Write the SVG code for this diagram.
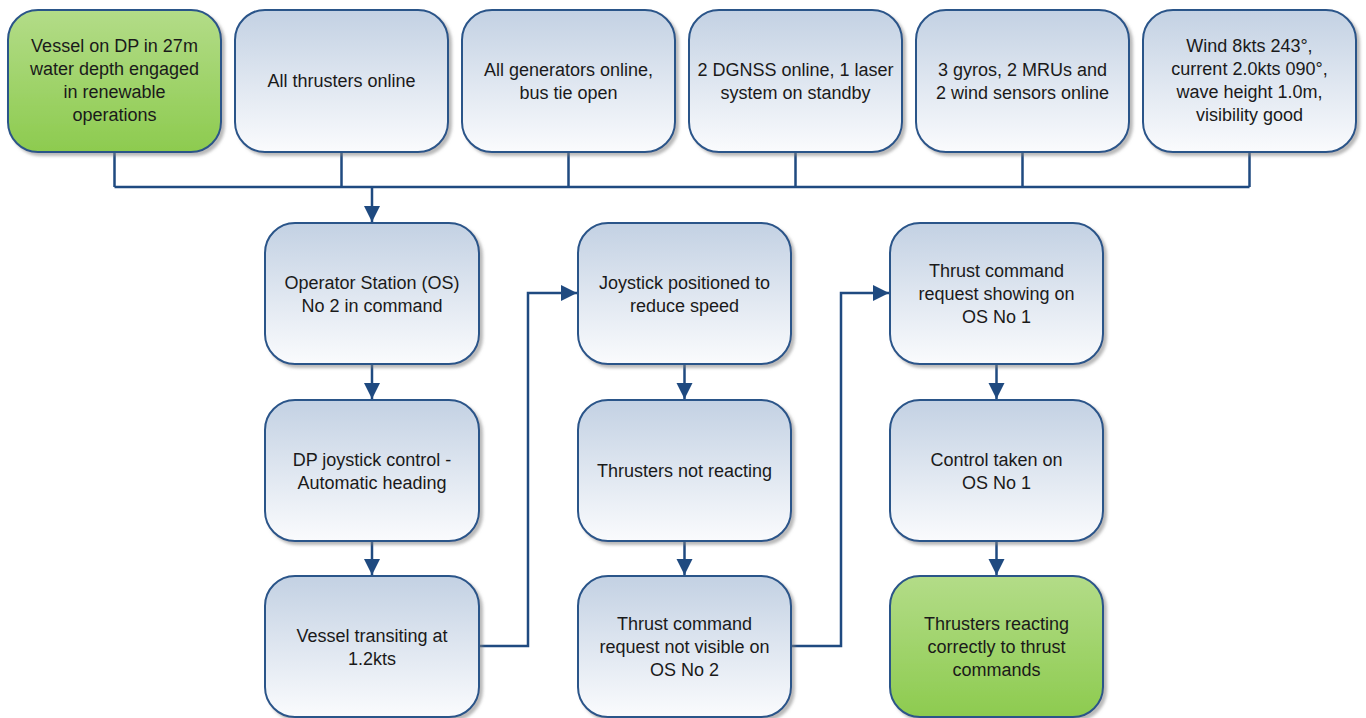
<svg xmlns="http://www.w3.org/2000/svg" width="1366" height="718" viewBox="0 0 1366 718">
<defs>
  <linearGradient id="gBlue" x1="0" y1="0" x2="0" y2="1">
    <stop offset="0" stop-color="#C3D1E3"/>
    <stop offset="1" stop-color="#FAFBFD"/>
  </linearGradient>
  <linearGradient id="gGreen" x1="0" y1="0" x2="0" y2="1">
    <stop offset="0" stop-color="#B3DC88"/>
    <stop offset="1" stop-color="#8DCB4F"/>
  </linearGradient>
  <filter id="shadow" x="-10%" y="-10%" width="125%" height="125%">
    <feDropShadow dx="3" dy="3" stdDeviation="1.8" flood-color="#7F7F7F" flood-opacity="0.55"/>
  </filter>
  <marker id="arrow" markerUnits="userSpaceOnUse" markerWidth="17" markerHeight="17" refX="16" refY="8" orient="auto">
    <path d="M0,0 L16,8 L0,16 Z" fill="#1F4A80"/>
  </marker>
  <style>
    .box { stroke: #2A5489; stroke-width: 2; filter: url(#shadow); }
    .blue { fill: url(#gBlue); }
    .green { fill: url(#gGreen); }
    .t { font-family: "Liberation Sans", Arial, sans-serif; font-size: 18px; fill: #1A1A1A; text-anchor: middle; }
    .c { fill: none; stroke: #1F4A80; stroke-width: 2.5; }
  </style>
</defs>

<g id="connectors">
  <path class="c" d="M114.5,152 V187 M341.5,152 V187 M568.5,152 V187 M795.5,152 V187 M1022.5,152 V187 M1249.5,152 V187 M114.5,187 H1249.5"/>
  <path class="c" d="M372,187 V222" marker-end="url(#arrow)"/>
  <path class="c" d="M372,364 V399" marker-end="url(#arrow)"/>
  <path class="c" d="M372,541 V575" marker-end="url(#arrow)"/>
  <path class="c" d="M479,646 H528 V293 H577" marker-end="url(#arrow)"/>
  <path class="c" d="M684.5,364 V399" marker-end="url(#arrow)"/>
  <path class="c" d="M684.5,541 V575" marker-end="url(#arrow)"/>
  <path class="c" d="M791,646 H841 V293 H889" marker-end="url(#arrow)"/>
  <path class="c" d="M996.5,364 V399" marker-end="url(#arrow)"/>
  <path class="c" d="M996.5,541 V575" marker-end="url(#arrow)"/>
</g>

<g id="n1">
  <rect class="box green" x="8" y="10" width="213" height="142" rx="30"/>
  <text class="t" x="114.5" y="52">Vessel on DP in 27m</text>
  <text class="t" x="114.5" y="75">water depth engaged</text>
  <text class="t" x="114.5" y="98">in renewable</text>
  <text class="t" x="114.5" y="121">operations</text>
</g>
<g id="n2">
  <rect class="box blue" x="235" y="10" width="213" height="142" rx="30"/>
  <text class="t" x="341.5" y="87">All thrusters online</text>
</g>
<g id="n3">
  <rect class="box blue" x="462" y="10" width="213" height="142" rx="30"/>
  <text class="t" x="568.5" y="76">All generators online,</text>
  <text class="t" x="568.5" y="99">bus tie open</text>
</g>
<g id="n4">
  <rect class="box blue" x="689" y="10" width="213" height="142" rx="30"/>
  <text class="t" x="795.5" y="76">2 DGNSS online, 1 laser</text>
  <text class="t" x="795.5" y="99">system on standby</text>
</g>
<g id="n5">
  <rect class="box blue" x="916" y="10" width="213" height="142" rx="30"/>
  <text class="t" x="1022.5" y="76">3 gyros, 2 MRUs and</text>
  <text class="t" x="1022.5" y="99">2 wind sensors online</text>
</g>
<g id="n6">
  <rect class="box blue" x="1143" y="10" width="213" height="142" rx="30"/>
  <text class="t" x="1249.5" y="52">Wind 8kts 243°,</text>
  <text class="t" x="1249.5" y="75">current 2.0kts 090°,</text>
  <text class="t" x="1249.5" y="98">wave height 1.0m,</text>
  <text class="t" x="1249.5" y="121">visibility good</text>
</g>

<g id="c1r1">
  <rect class="box blue" x="265" y="223" width="214" height="141" rx="30"/>
  <text class="t" x="372" y="289">Operator Station (OS)</text>
  <text class="t" x="372" y="312">No 2 in command</text>
</g>
<g id="c1r2">
  <rect class="box blue" x="265" y="400" width="214" height="141" rx="30"/>
  <text class="t" x="372" y="466">DP joystick control -</text>
  <text class="t" x="372" y="489">Automatic heading</text>
</g>
<g id="c1r3">
  <rect class="box blue" x="265" y="576" width="214" height="141" rx="30"/>
  <text class="t" x="372" y="642">Vessel transiting at</text>
  <text class="t" x="372" y="665">1.2kts</text>
</g>

<g id="c2r1">
  <rect class="box blue" x="578" y="223" width="213" height="141" rx="30"/>
  <text class="t" x="684.5" y="289">Joystick positioned to</text>
  <text class="t" x="684.5" y="312">reduce speed</text>
</g>
<g id="c2r2">
  <rect class="box blue" x="578" y="400" width="213" height="141" rx="30"/>
  <text class="t" x="684.5" y="477">Thrusters not reacting</text>
</g>
<g id="c2r3">
  <rect class="box blue" x="578" y="576" width="213" height="141" rx="30"/>
  <text class="t" x="684.5" y="630">Thrust command</text>
  <text class="t" x="684.5" y="653">request not visible on</text>
  <text class="t" x="684.5" y="676">OS No 2</text>
</g>

<g id="c3r1">
  <rect class="box blue" x="890" y="223" width="213" height="141" rx="30"/>
  <text class="t" x="996.5" y="277">Thrust command</text>
  <text class="t" x="996.5" y="300">request showing on</text>
  <text class="t" x="996.5" y="323">OS No 1</text>
</g>
<g id="c3r2">
  <rect class="box blue" x="890" y="400" width="213" height="141" rx="30"/>
  <text class="t" x="996.5" y="466">Control taken on</text>
  <text class="t" x="996.5" y="489">OS No 1</text>
</g>
<g id="c3r3">
  <rect class="box green" x="890" y="576" width="213" height="141" rx="30"/>
  <text class="t" x="996.5" y="630">Thrusters reacting</text>
  <text class="t" x="996.5" y="653">correctly to thrust</text>
  <text class="t" x="996.5" y="676">commands</text>
</g>
</svg>
